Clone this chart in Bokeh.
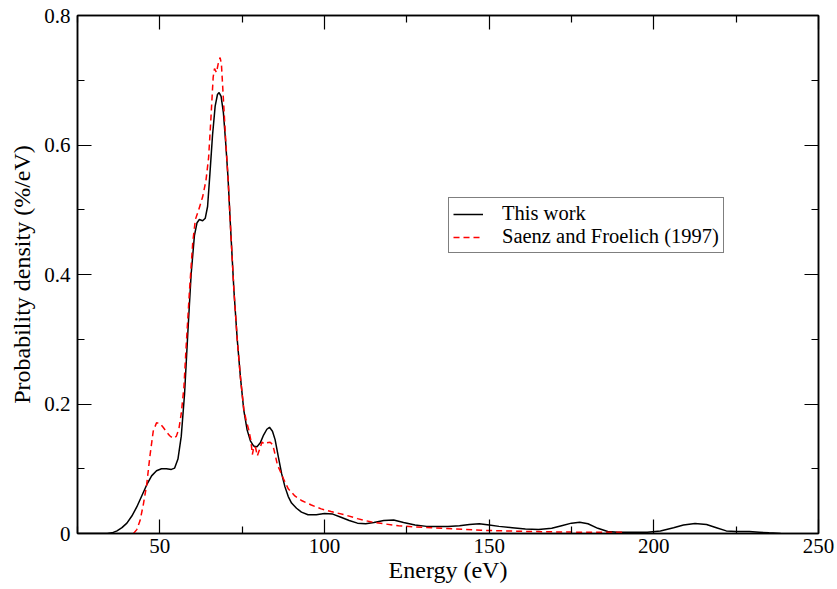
from bokeh.plotting import figure
from bokeh.models import (Range1d, FixedTicker, LinearAxis, Legend, LegendItem,
                          CustomJSTickFormatter)
from bokeh.embed import file_html
from bokeh.resources import INLINE

# ---- data: "This work" ----
this_e = [25, 30, 34, 35.5, 37, 38.5, 40, 41.5, 43, 44.5, 46, 47.5, 49, 50.5, 52, 53.5,
          54.5, 55.5, 56.5, 57.5, 58.5, 59.5, 60.5, 61.3, 62, 63, 63.8, 64.5, 65.2, 66,
          66.8, 67.5, 68, 68.6, 69.3, 70, 70.7, 71.5, 72.5, 73.5, 74.5, 75.5, 76.5, 77.5,
          78.5, 79.5, 80.5, 81.5, 82.5, 83.3, 84.2, 85, 86, 87, 88, 89, 90, 91.5, 93, 95,
          97.5, 100, 102.5, 105, 107.5, 110, 112.5, 115, 118, 121, 124, 127.5, 131, 134,
          137.5, 141, 144, 147, 150, 153, 157, 161, 165, 169, 172, 175, 177.5, 180, 183,
          186, 189, 193, 198, 202, 206, 209, 212.5, 216, 219, 222, 225, 229, 232, 235, 238.5]
this_p = [0, 0, 0, 0.001, 0.004, 0.009, 0.016, 0.027, 0.041, 0.058, 0.075, 0.089, 0.097,
          0.100, 0.100, 0.099, 0.101, 0.115, 0.150, 0.215, 0.310, 0.400, 0.460, 0.480,
          0.485, 0.483, 0.487, 0.505, 0.555, 0.615, 0.660, 0.678, 0.681, 0.675, 0.650,
          0.603, 0.550, 0.470, 0.375, 0.300, 0.240, 0.190, 0.160, 0.143, 0.135, 0.134,
          0.140, 0.152, 0.161, 0.164, 0.158, 0.145, 0.118, 0.092, 0.072, 0.057, 0.047,
          0.039, 0.033, 0.029, 0.029, 0.031, 0.030, 0.025, 0.020, 0.016, 0.015, 0.017,
          0.020, 0.021, 0.017, 0.013, 0.011, 0.011, 0.011, 0.012, 0.014, 0.015, 0.013,
          0.011, 0.009, 0.007, 0.006, 0.008, 0.012, 0.016, 0.0175, 0.015, 0.008, 0.003,
          0.002, 0.002, 0.002, 0.004, 0.009, 0.013, 0.0155, 0.014, 0.009, 0.004, 0.003,
          0.003, 0.002, 0.001, 0]

# ---- data: "Saenz and Froelich (1997)" ----
sf_e = [42, 43, 44, 45, 46, 47, 48, 49, 50, 51, 52, 53, 54, 55, 55.8, 56.5, 57.3, 58, 59,
        60, 60.8, 61.8, 63, 64, 64.8, 65.5, 66.2, 66.6, 67.2, 67.7, 68.3, 68.7, 69.2, 70,
        70.7, 71.5, 72.5, 73.5, 74.5, 75.5, 76.2, 77, 77.6, 78.1, 78.6, 79.1, 79.6, 80.3,
        81, 81.8, 82.5, 83.5, 84.3, 85, 85.7, 86.5, 87.5, 89, 91, 93, 96, 99, 102, 106,
        110, 114, 118, 122.5, 127.5, 132.5, 140, 147.5, 155, 163, 170, 178, 185, 191]
sf_p = [0, 0.006, 0.020, 0.045, 0.075, 0.120, 0.158, 0.171, 0.170, 0.164, 0.157, 0.151,
        0.147, 0.150, 0.162, 0.185, 0.225, 0.290, 0.375, 0.450, 0.485, 0.500, 0.520,
        0.545, 0.580, 0.640, 0.705, 0.718, 0.712, 0.725, 0.735, 0.725, 0.680, 0.608,
        0.550, 0.470, 0.375, 0.300, 0.240, 0.192, 0.175, 0.160, 0.145, 0.122, 0.135,
        0.132, 0.120, 0.130, 0.141, 0.138, 0.140, 0.141, 0.137, 0.122, 0.106, 0.097,
        0.085, 0.069, 0.058, 0.051, 0.044, 0.038, 0.034, 0.029, 0.023, 0.018, 0.015,
        0.012, 0.010, 0.009, 0.007, 0.005, 0.004, 0.003, 0.0025, 0.002, 0.002, 0.002]

x_major = [50, 100, 150, 200, 250]
x_minor = [25, 75, 125, 175, 225]
y_major = [0, 0.2, 0.4, 0.6, 0.8]
y_minor = [0.1, 0.3, 0.5, 0.7]

FONT = "Liberation Serif, Times New Roman, serif"

p = figure(width=836, height=588, x_range=Range1d(25, 250), y_range=Range1d(0, 0.8),
           output_backend="svg", toolbar_location=None,
           min_border_left=77, min_border_right=18, min_border_top=15, min_border_bottom=55)
p.xgrid.visible = False
p.ygrid.visible = False
p.outline_line_color = "black"
p.outline_line_width = 1.5

r1 = p.line(this_e, this_p, line_color="black", line_width=1.5)
r2 = p.line(sf_e, sf_p, line_color="red", line_width=1.5, line_dash="6 4")

yfmt = CustomJSTickFormatter(code="return Math.abs(tick) < 1e-9 ? '0' : tick.toFixed(1);")


def style(ax, ticks, minor, labels=True):
    ax.ticker = FixedTicker(ticks=ticks, minor_ticks=minor)
    ax.axis_line_color = "black"
    ax.axis_line_width = 1.5
    ax.major_tick_in = 14
    ax.major_tick_out = 0
    ax.minor_tick_in = 7
    ax.minor_tick_out = 0
    ax.major_tick_line_color = "black"
    ax.minor_tick_line_color = "black"
    ax.major_tick_line_width = 1.2
    ax.minor_tick_line_width = 1.2
    ax.major_label_text_font = FONT
    ax.major_label_text_font_size = "21px"
    ax.major_label_text_color = "black" if labels else None
    ax.axis_label_text_font = FONT
    ax.axis_label_text_font_style = "normal"
    ax.axis_label_text_color = "black"
    if not labels:
        ax.major_label_standoff = 0
        ax.major_label_overrides = {t: "" for t in ticks}


style(p.xaxis[0], x_major, x_minor)
style(p.yaxis[0], y_major, y_minor)
p.xaxis[0].axis_label = "Energy (eV)"
p.xaxis[0].axis_label_text_font_size = "24px"
p.xaxis[0].major_label_standoff = 5
p.xaxis[0].axis_label_standoff = 1
p.yaxis[0].axis_label = "Probability density (%/eV)"
p.yaxis[0].axis_label_text_font_size = "24px"
p.yaxis[0].major_label_standoff = 7
p.yaxis[0].axis_label_standoff = 6
p.yaxis[0].formatter = yfmt

top = LinearAxis()
style(top, x_major, x_minor, labels=False)
p.add_layout(top, "above")
right = LinearAxis()
style(right, y_major, y_minor, labels=False)
p.add_layout(right, "right")

legend = Legend(items=[LegendItem(label="This work", renderers=[r1]),
                       LegendItem(label="Saenz and Froelich (1997)", renderers=[r2])],
                location=(371, 280))
legend.border_line_color = "black"
legend.border_line_width = 1.5
legend.background_fill_color = "white"
legend.background_fill_alpha = 1
legend.label_text_font = FONT
legend.label_text_font_size = "20.5px"
legend.label_text_color = "black"
legend.glyph_width = 30
legend.glyph_height = 20
legend.label_height = 20
legend.label_standoff = 19
legend.padding = 4
legend.margin = 0
legend.spacing = 0
p.add_layout(legend, "center")

open("out.html", "w").write(file_html(p, INLINE))
